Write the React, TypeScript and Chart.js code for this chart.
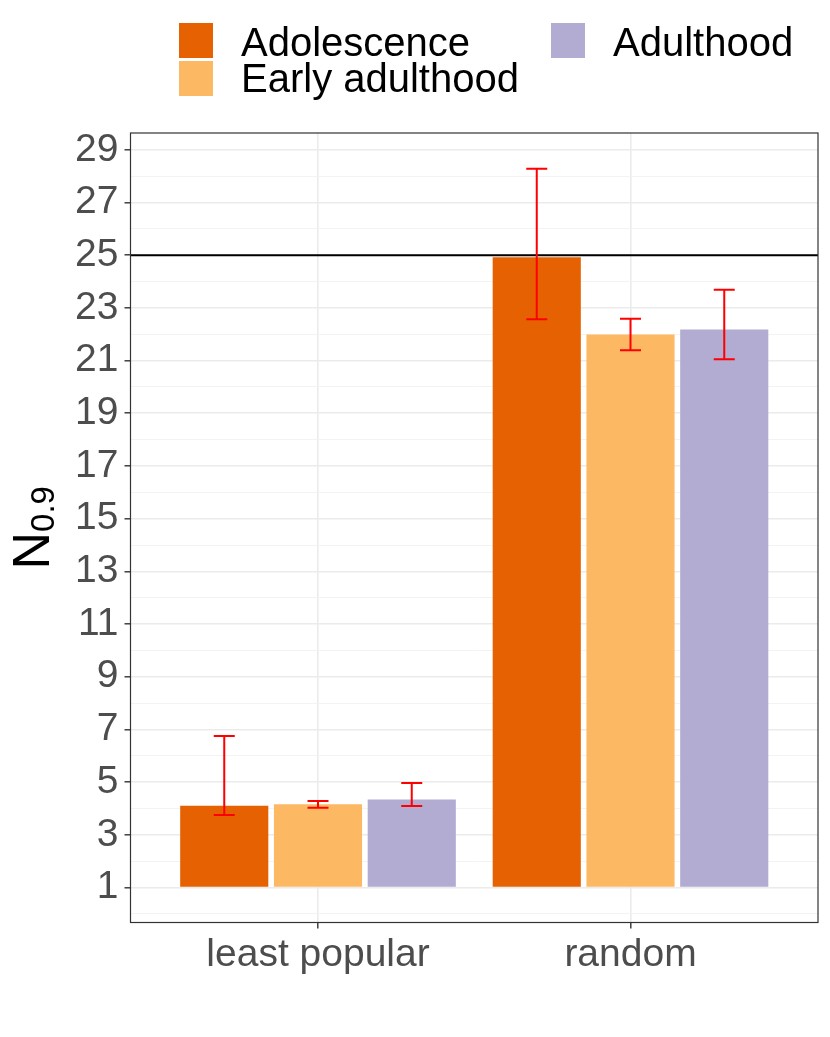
import React, { useEffect, useRef } from 'react';
import { Chart, registerables } from 'chart.js';

Chart.register(...registerables);

const categories = ['least popular', 'random'];
const seriesNames = ['Adolescence', 'Early adulthood', 'Adulthood'];
const seriesColors = ['#E66101', '#FDB863', '#B2ABD2'];

const adolescence = [4.1, 24.92];
const earlyAdulthood = [4.16, 21.99];
const adulthood = [4.34, 22.18];

const adolescenceLow = [3.75, 22.57];
const adolescenceHigh = [6.75, 28.28];
const earlyAdulthoodLow = [4.03, 21.39];
const earlyAdulthoodHigh = [4.28, 22.59];
const adulthoodLow = [4.09, 21.05];
const adulthoodHigh = [4.97, 23.69];

const yMajorTicks = [1, 3, 5, 7, 9, 11, 13, 15, 17, 19, 21, 23, 25, 27, 29];
const yMinorTicks = [0, 2, 4, 6, 8, 10, 12, 14, 16, 18, 20, 22, 24, 26, 28];
const referenceLine = 25;
const barBase = 1;

const FONT = '"Liberation Sans", Arial, Helvetica, sans-serif';

const seriesValues = [adolescence, earlyAdulthood, adulthood];
const seriesLow = [adolescenceLow, earlyAdulthoodLow, adulthoodLow];
const seriesHigh = [adolescenceHigh, earlyAdulthoodHigh, adulthoodHigh];

const panelPlugin = {
  id: 'panelExtras',
  afterDatasetsDraw(chart: any) {
    const { ctx, chartArea, scales } = chart;
    const y = scales.y;
    const yy = y.getPixelForValue(referenceLine);
    ctx.save();
    ctx.beginPath();
    ctx.moveTo(chartArea.left, yy);
    ctx.lineTo(chartArea.right, yy);
    ctx.strokeStyle = '#000000';
    ctx.lineWidth = 2;
    ctx.stroke();
    ctx.strokeStyle = '#FF0000';
    ctx.lineWidth = 2;
    chart.data.datasets.forEach((ds: any, i: number) => {
      const meta = chart.getDatasetMeta(i);
      meta.data.forEach((bar: any, j: number) => {
        const x = bar.x;
        const lo = y.getPixelForValue(seriesLow[i][j]);
        const hi = y.getPixelForValue(seriesHigh[i][j]);
        const cap = 10.5;
        ctx.beginPath();
        ctx.moveTo(x, lo);
        ctx.lineTo(x, hi);
        ctx.moveTo(x - cap, lo);
        ctx.lineTo(x + cap, lo);
        ctx.moveTo(x - cap, hi);
        ctx.lineTo(x + cap, hi);
        ctx.stroke();
      });
    });
    ctx.restore();
  },
  afterDraw(chart: any) {
    const { ctx, chartArea } = chart;
    ctx.save();
    ctx.strokeStyle = '#333333';
    ctx.lineWidth = 1.2;
    ctx.strokeRect(chartArea.left, chartArea.top, chartArea.right - chartArea.left, chartArea.bottom - chartArea.top);

    const cy = (chartArea.top + chartArea.bottom) / 2;
    ctx.fillStyle = '#000000';
    ctx.textBaseline = 'alphabetic';
    ctx.textAlign = 'left';
    ctx.font = `52px ${FONT}`;
    const wN = ctx.measureText('N').width;
    ctx.font = `33px ${FONT}`;
    const wS = ctx.measureText('0.9').width;
    const total = wN + wS;
    ctx.translate(49, cy);
    ctx.rotate(-Math.PI / 2);
    ctx.font = `52px ${FONT}`;
    ctx.fillText('N', -total / 2, 0);
    ctx.font = `33px ${FONT}`;
    ctx.fillText('0.9', -total / 2 + wN, 5);
    ctx.restore();

    ctx.save();
    ctx.font = `40px ${FONT}`;
    ctx.textBaseline = 'alphabetic';
    ctx.textAlign = 'left';
    const items = [
      { i: 0, sx: 179, sy: 23, tx: 241, ty: 56 },
      { i: 1, sx: 179, sy: 61, tx: 241, ty: 92 },
      { i: 2, sx: 551, sy: 23, tx: 613, ty: 56 },
    ];
    items.forEach((it) => {
      ctx.fillStyle = seriesColors[it.i];
      ctx.fillRect(it.sx, it.sy, 34, 35);
      ctx.fillStyle = '#000000';
      ctx.fillText(seriesNames[it.i], it.tx, it.ty);
    });
    ctx.restore();
  },
};

export default function App() {
  const ref = useRef<HTMLCanvasElement | null>(null);

  useEffect(() => {
    if (!ref.current) return;
    const chart = new Chart(ref.current, {
      type: 'bar',
      data: {
        datasets: seriesNames.map((name, i) => ({
          label: name,
          data: categories.map((_, j) => ({ x: j + 1, y: seriesValues[i][j] })),
          backgroundColor: seriesColors[i],
          borderWidth: 0,
          base: barBase,
          categoryPercentage: 0.9,
          barPercentage: 0.94,
        })),
      },
      options: {
        animation: false,
        responsive: false,
        devicePixelRatio: 1,
        layout: { padding: { top: 133, right: 12, left: 0, bottom: 0 } },
        plugins: {
          legend: { display: false },
          tooltip: { enabled: false },
        },
        scales: {
          x: {
            type: 'linear',
            min: 0.4,
            max: 2.6,
            offset: false,
            afterBuildTicks: (scale: any) => {
              scale.ticks = categories.map((_, j) => ({ value: j + 1 }));
            },
            afterFit: (scale: any) => {
              scale.height = 114.5;
            },
            grid: {
              offset: false,
              color: '#EBEBEB',
              lineWidth: 1.6,
              drawTicks: true,
              tickLength: 6,
              tickColor: '#333333',
              tickWidth: 1.4,
            },
            border: { display: false },
            ticks: {
              autoSkip: false,
              maxRotation: 0,
              padding: 3,
              color: '#4D4D4D',
              font: { family: FONT, size: 39 },
              callback: (v: any) => categories[Math.round(Number(v)) - 1] ?? '',
            },
          },
          y: {
            type: 'linear',
            min: -0.33,
            max: 29.64,
            afterBuildTicks: (scale: any) => {
              const all = [...yMinorTicks, ...yMajorTicks].sort((a, b) => a - b);
              scale.ticks = all.map((v) => ({ value: v }));
            },
            afterFit: (scale: any) => {
              scale.width = 130.5;
            },
            grid: {
              color: (c: any) => (yMajorTicks.includes(c.tick?.value) ? '#EBEBEB' : '#F2F2F2'),
              lineWidth: (c: any) => (yMajorTicks.includes(c.tick?.value) ? 1.6 : 0.9),
              drawTicks: true,
              tickLength: 6,
              tickColor: (c: any) => (yMajorTicks.includes(c.tick?.value) ? '#333333' : 'rgba(0,0,0,0)'),
              tickWidth: 1.4,
            },
            border: { display: false },
            ticks: {
              autoSkip: false,
              padding: 6,
              color: '#4D4D4D',
              font: { family: FONT, size: 39 },
              callback: (v: any) => (yMajorTicks.includes(Number(v)) ? String(v) : ''),
            },
          },
        },
      },
      plugins: [panelPlugin],
    } as any);
    return () => chart.destroy();
  }, []);

  return (
    <div style={{ position: 'absolute', left: 0, top: 0, width: 830, height: 1037, background: '#FFFFFF' }}>
      <canvas ref={ref} width={830} height={1037} style={{ display: 'block', width: 830, height: 1037 }} />
    </div>
  );
}
